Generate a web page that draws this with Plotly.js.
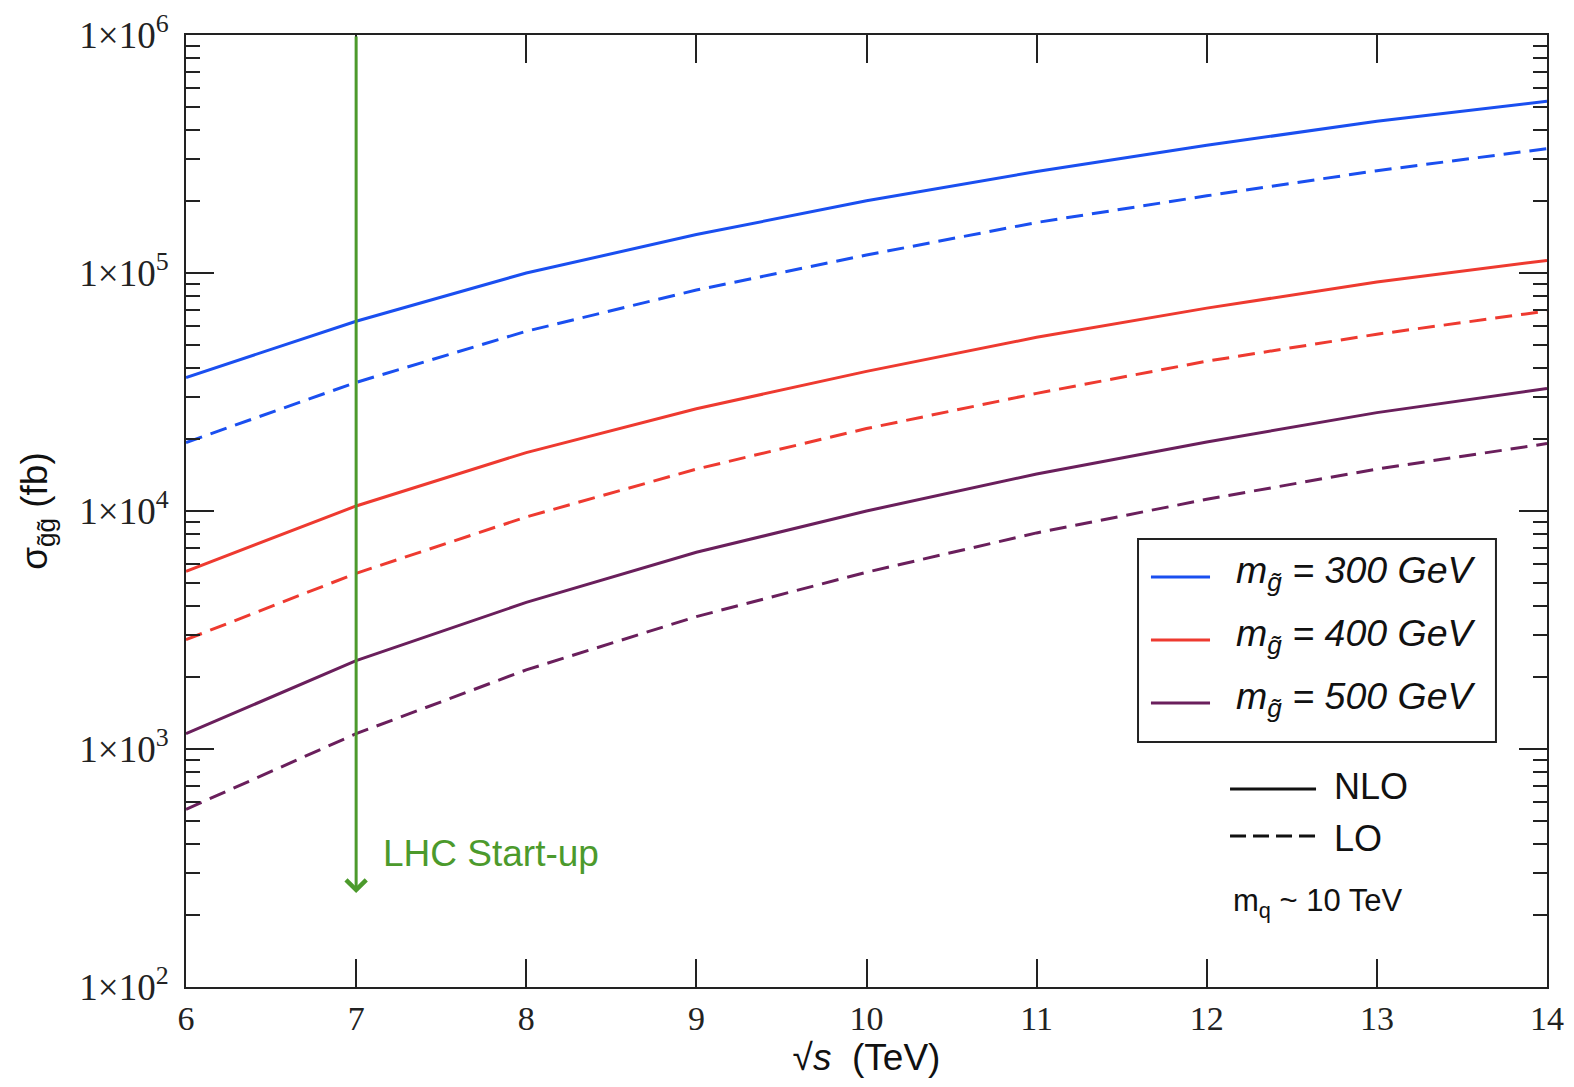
<!DOCTYPE html>
<html>
<head>
<meta charset="utf-8">
<script src="https://cdn.plot.ly/plotly-3.0.1.min.js"></script>
<style>html,body{margin:0;padding:0;background:#fff;}#chart{width:1574px;height:1087px;}</style>
</head>
<body>
<div id="chart"></div>
<script>
// Centre-of-mass energy sqrt(s) in TeV
const sqrtS = [6, 7, 8, 9, 10, 11, 12, 13, 14];

// Gluino pair cross sections (fb)
const nlo300 = [3.64e4, 6.27e4, 1.0e5, 1.45e5, 2.01e5, 2.67e5, 3.44e5, 4.34e5, 5.27e5];
const lo300  = [1.94e4, 3.47e4, 5.69e4, 8.48e4, 1.19e5, 1.63e5, 2.11e5, 2.69e5, 3.33e5];
const nlo400 = [5.58e3, 1.05e4, 1.76e4, 2.69e4, 3.86e4, 5.37e4, 7.12e4, 9.16e4, 1.13e5];
const lo400  = [2.88e3, 5.47e3, 9.44e3, 1.50e4, 2.22e4, 3.12e4, 4.26e4, 5.53e4, 6.92e4];
const nlo500 = [1.16e3, 2.35e3, 4.13e3, 6.71e3, 1.00e4, 1.43e4, 1.95e4, 2.59e4, 3.27e4];
const lo500  = [558, 1.16e3, 2.15e3, 3.60e3, 5.53e3, 8.09e3, 1.12e4, 1.50e4, 1.92e4];

const seriesNames = ['m_g̃ = 300 GeV', 'm_g̃ = 400 GeV', 'm_g̃ = 500 GeV'];
const massLabels = ['300 GeV', '400 GeV', '500 GeV'];

// Axis ticks
const yTickVals = [1e2, 1e3, 1e4, 1e5, 1e6];
const yTickText = ['1×10<sup>2</sup>', '1×10<sup>3</sup>', '1×10<sup>4</sup>', '1×10<sup>5</sup>', '1×10<sup>6</sup>'];
const xTickVals = [6, 7, 8, 9, 10, 11, 12, 13, 14];
const yMinorVals = [];
[2, 3, 4, 5].forEach(function (p) {
  [2, 3, 4, 5, 6, 7, 8, 9].forEach(function (m) { yMinorVals.push(m * Math.pow(10, p)); });
});

// LHC start-up marker
const lhcX = 7;
const lhcArrowEnd = 248;

const colors = ['#1a4ff0', '#ee3a30', '#6a1f5c'];
const green = '#4c9a2c';
const sans = 'Liberation Sans, Arial, sans-serif';
const serif = 'Liberation Serif, Times New Roman, serif';

const nloSets = [nlo300, nlo400, nlo500];
const loSets = [lo300, lo400, lo500];
const traces = [];
for (let i = 0; i < 3; i++) {
  traces.push({x: sqrtS, y: nloSets[i], type: 'scatter', mode: 'lines', name: seriesNames[i] + ' NLO',
    showlegend: false, line: {color: colors[i], width: 3}});
  traces.push({x: sqrtS, y: loSets[i], type: 'scatter', mode: 'lines', name: seriesNames[i] + ' LO',
    showlegend: false, line: {color: colors[i], width: 3, dash: '17px,9px'}});
}

// custom legend (paper coordinates)
const legRows = [0.4307, 0.3645, 0.2983];
const shapes = [
  {type: 'rect', xref: 'paper', yref: 'paper', x0: 0.6995, x1: 0.9625, y0: 0.2574, y1: 0.4706,
   line: {color: '#222', width: 2}, fillcolor: 'white', layer: 'above'}
];
const annotations = [];
for (let i = 0; i < 3; i++) {
  shapes.push({type: 'line', xref: 'paper', yref: 'paper', x0: 0.709, x1: 0.7524, y0: legRows[i], y1: legRows[i],
    line: {color: colors[i], width: 3}, layer: 'above'});
  annotations.push({xref: 'paper', yref: 'paper', x: 0.7700, y: legRows[i] + 0.004, xanchor: 'left', yanchor: 'middle',
    showarrow: false, text: '<i>m<sub>g̃</sub> = ' + massLabels[i] + '</i>', font: {family: sans, size: 37.5, color: '#111'}});
}
shapes.push({type: 'line', xref: 'paper', yref: 'paper', x0: 0.7671, x1: 0.8303, y0: 0.208, y1: 0.208,
  line: {color: '#111', width: 3}});
shapes.push({type: 'line', xref: 'paper', yref: 'paper', x0: 0.7671, x1: 0.8332, y0: 0.1586, y1: 0.1586,
  line: {color: '#111', width: 3, dash: '16px,7px'}});
annotations.push({xref: 'paper', yref: 'paper', x: 0.842, y: 0.211, xanchor: 'left', yanchor: 'middle',
  showarrow: false, text: 'NLO', font: {family: sans, size: 36, color: '#111'}});
annotations.push({xref: 'paper', yref: 'paper', x: 0.842, y: 0.1564, xanchor: 'left', yanchor: 'middle',
  showarrow: false, text: 'LO', font: {family: sans, size: 36, color: '#111'}});
annotations.push({xref: 'paper', yref: 'paper', x: 0.7680, y: 0.0882, xanchor: 'left', yanchor: 'middle',
  showarrow: false, text: 'm<sub>q</sub> ~ 10 TeV', font: {family: sans, size: 31, color: '#111'}});

// LHC arrow and label
annotations.push({xref: 'x', yref: 'y', x: lhcX, y: Math.log10(lhcArrowEnd), axref: 'x', ayref: 'y', ax: lhcX, ay: 6,
  text: '', showarrow: true, arrowhead: 4, arrowsize: 1.3, arrowwidth: 3, arrowcolor: green, standoff: 0});
annotations.push({xref: 'x', yref: 'y', x: 7.146, y: 2.563, xanchor: 'left', yanchor: 'middle', showarrow: false,
  text: 'LHC Start-up', font: {family: sans, size: 37, color: green}});

const layout = {
  width: 1574, height: 1087,
  margin: {l: 186, r: 27, t: 35, b: 100},
  paper_bgcolor: 'white', plot_bgcolor: 'white',
  showlegend: false,
  xaxis: {
    range: [6, 14], tickvals: xTickVals, ticktext: xTickVals.map(String),
    ticks: 'inside', ticklen: 28, tickwidth: 2, tickcolor: '#222',
    showline: true, linewidth: 2, linecolor: '#222', mirror: 'ticks',
    showgrid: false, zeroline: false,
    tickfont: {family: serif, size: 34, color: '#222'},
    title: {text: '√<i>s</i>\u00a0\u00a0(TeV)', font: {family: sans, size: 37, color: '#111'}, standoff: 8}
  },
  yaxis: {
    type: 'log', range: [2, 6], tickvals: yTickVals, ticktext: yTickText,
    ticks: 'inside', ticklen: 28, tickwidth: 2, tickcolor: '#222',
    minor: {tickvals: yMinorVals, ticks: 'inside', ticklen: 14, tickwidth: 2, tickcolor: '#222', showgrid: false},
    showline: true, linewidth: 2, linecolor: '#222', mirror: 'ticks',
    showgrid: false, zeroline: false, ticklabelstandoff: 8,
    tickfont: {family: serif, size: 37, color: '#222'},
    title: {text: 'σ<sub>g̃g̃</sub> (fb)', font: {family: sans, size: 37, color: '#111'}, standoff: 20}
  },
  shapes: shapes,
  annotations: annotations
};

Plotly.newPlot('chart', traces, layout, {displayModeBar: false, staticPlot: true});
</script>
</body>
</html>
